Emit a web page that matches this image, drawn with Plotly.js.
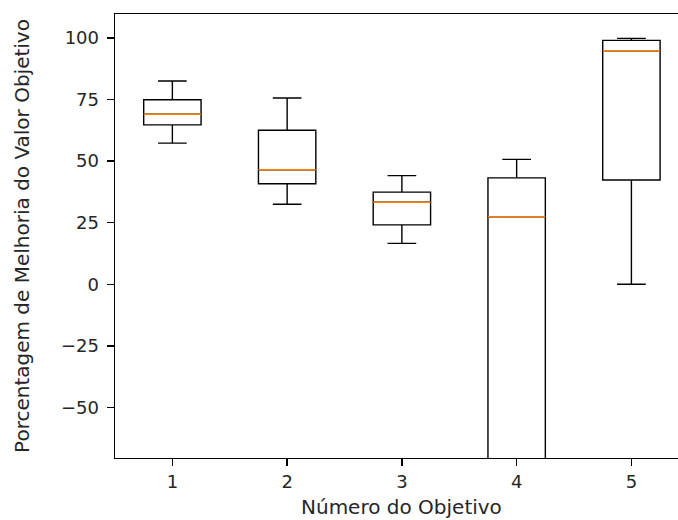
<!DOCTYPE html>
<html><head><meta charset="utf-8">
<script src="https://cdn.plot.ly/plotly-3.0.1.min.js"></script>
<style>html,body{margin:0;padding:0;background:#fff}</style>
</head><body><div id="chart" style="width:678px;height:520px"></div>
<script>
const objectives = [1, 2, 3, 4, 5];
const xTickLabels = ['1', '2', '3', '4', '5'];
const lowerWhisker = [57.3, 32.5, 16.6, -150, 0];
const q1 = [64.7, 40.8, 24.1, -90, 42.3];
const median = [69.0, 46.5, 33.3, 27.4, 94.8];
const q3 = [74.9, 62.5, 37.4, 43.2, 99.0];
const upperWhisker = [82.5, 75.6, 44.1, 50.7, 99.8];
const yTickVals = [-50, -25, 0, 25, 50, 75, 100];
const xTitle = 'Número do Objetivo';
const yTitle = 'Porcentagem de Melhoria do Valor Objetivo';

const fontFam = 'DejaVu Sans, sans-serif';
const boxes = {
  type: 'box', x: objectives, q1: q1, median: median, q3: q3,
  lowerfence: lowerWhisker, upperfence: upperWhisker,
  boxpoints: false, width: 0.5, whiskerwidth: 0.5,
  line: {color: '#000', width: 1.4}, fillcolor: 'rgba(0,0,0,0)',
  hoverinfo: 'skip'
};
const medians = {
  type: 'box', x: objectives, q1: median, median: median, q3: median,
  lowerfence: median, upperfence: median,
  boxpoints: false, width: 0.5, whiskerwidth: 0,
  line: {color: '#ff7f0e', width: 1.4}, fillcolor: 'rgba(0,0,0,0)',
  hoverinfo: 'skip'
};
const xCenter = (objectives[0] + objectives[objectives.length - 1]) / 2;
const layout = {
  width: 678, height: 520,
  paper_bgcolor: '#fff', plot_bgcolor: '#fff',
  showlegend: false, boxmode: 'overlay',
  margin: {l: 115, r: 0, t: 14, b: 62, autoexpand: false},
  font: {family: fontFam, size: 18, color: '#262626'},
  xaxis: {
    range: [0.5, 5.406], tickvals: objectives, ticktext: xTickLabels,
    ticks: 'outside', ticklen: 7, tickwidth: 1.4, tickcolor: '#000',
    showline: true, linecolor: '#000', linewidth: 1.4, mirror: true,
    showgrid: false, zeroline: false,
    tickfont: {size: 18}
  },
  yaxis: {
    range: [-70.5, 109.7], tickvals: yTickVals,
    ticks: 'outside', ticklen: 7, tickwidth: 1.4, tickcolor: '#000',
    ticklabelstandoff: 4,
    showline: true, linecolor: '#000', linewidth: 1.4,
    showgrid: false, zeroline: false,
    tickfont: {size: 18},
    title: {text: yTitle, font: {size: 20}, standoff: 26}
  },
  annotations: [{
    text: xTitle, xref: 'x', x: xCenter, yref: 'paper', y: -0.11,
    xanchor: 'center', yanchor: 'middle', showarrow: false,
    font: {size: 20, color: '#262626'}
  }]
};
Plotly.newPlot('chart', [boxes, medians], layout, {displayModeBar: false, staticPlot: true});
</script></body></html>
